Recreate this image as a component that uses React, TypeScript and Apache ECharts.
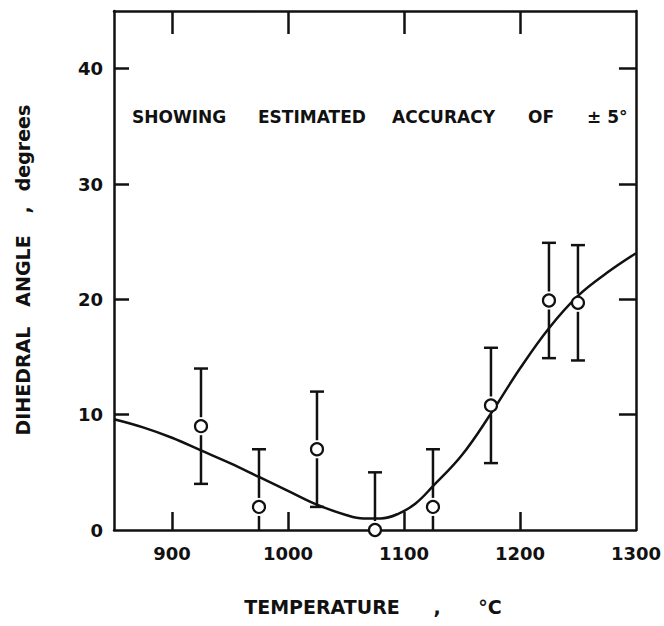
import React, { useEffect, useRef } from "react";
import * as echarts from "echarts";

// Measured dihedral angles (degrees) against temperature (°C)
const temperatures = [925, 975, 1025, 1075, 1125, 1175, 1225, 1250];
const angles = [9, 2, 7, 0, 2, 10.8, 19.9, 19.7];
const accuracy = 5; // estimated accuracy, ± degrees

// Smooth trend curve through the measurements
const curveTemperatures = [850, 875, 900, 925, 950, 975, 1000, 1025, 1050, 1065, 1080, 1095, 1110, 1125, 1150, 1175, 1200, 1225, 1250, 1275, 1300];
const curveAngles = [9.6, 8.9, 8.0, 6.9, 5.8, 4.6, 3.4, 2.2, 1.3, 1.0, 1.0, 1.4, 2.3, 3.8, 6.5, 10.1, 14.0, 17.5, 20.3, 22.3, 24.0];

// Axis ticks and labels
const xTickValues = [900, 1000, 1100, 1200];
const xLabelValues = [900, 1000, 1100, 1200, 1300];
const yTickValues = [10, 20, 30, 40];
const yLabelValues = [0, 10, 20, 30, 40];

const FONT = "DejaVu Sans";
const INK = "#111";

export default function App() {
  const ref = useRef<HTMLDivElement>(null);

  useEffect(() => {
    if (!ref.current) return;
    const chart = echarts.init(ref.current, null, { renderer: "svg" });

    const labelStyle = {
      color: INK,
      fontFamily: FONT,
      fontWeight: "bold" as const,
      fontSize: 18,
      formatter: (v: number) => String(v),
    };
    const frameLine = { show: true, onZero: false, lineStyle: { color: INK, width: 2.5 } };
    const tickStyle = { color: INK, width: 2.5 };

    const option: any = {
      animation: false,
      backgroundColor: "#fff",
      grid: { left: 114, right: 28, top: 11, bottom: 96 },
      xAxis: [
        {
          type: "value",
          min: 850,
          max: 1300,
          position: "bottom",
          axisLine: frameLine,
          axisTick: { show: true, inside: true, length: 18, customValues: xTickValues, lineStyle: tickStyle },
          axisLabel: { ...labelStyle, margin: 14, customValues: xLabelValues },
          splitLine: { show: false },
        },
        {
          type: "value",
          min: 850,
          max: 1300,
          position: "top",
          axisLine: frameLine,
          axisTick: { show: true, inside: true, length: 23, customValues: xTickValues, lineStyle: tickStyle },
          axisLabel: { show: false },
          splitLine: { show: false },
        },
      ],
      yAxis: [
        {
          type: "value",
          min: 0,
          max: 45,
          position: "left",
          axisLine: frameLine,
          axisTick: { show: true, inside: true, length: 15, customValues: yTickValues, lineStyle: tickStyle },
          axisLabel: { ...labelStyle, margin: 11, customValues: yLabelValues },
          splitLine: { show: false },
        },
        {
          type: "value",
          min: 0,
          max: 45,
          position: "right",
          axisLine: frameLine,
          axisTick: { show: true, inside: true, length: 17, customValues: yTickValues, lineStyle: tickStyle },
          axisLabel: { show: false },
          splitLine: { show: false },
        },
      ],
      series: [
        {
          type: "custom",
          name: "accuracy",
          xAxisIndex: 0,
          yAxisIndex: 0,
          data: temperatures.map((t, i) => [t, angles[i]]),
          renderItem: (params: any, api: any) => {
            const t = api.value(0);
            const a = api.value(1);
            const lo = a - accuracy;
            const hi = a + accuracy;
            const c = api.coord([t, a]);
            const pHi = api.coord([t, hi]);
            const pLo = api.coord([t, Math.max(0, lo)]);
            const gap = 9;
            const cap = 7;
            const style = { stroke: INK, lineWidth: 2.5 };
            const children: any[] = [
              { type: "line", shape: { x1: c[0], y1: c[1] - gap, x2: c[0], y2: pHi[1] }, style },
              { type: "line", shape: { x1: c[0] - cap, y1: pHi[1], x2: c[0] + cap, y2: pHi[1] }, style },
            ];
            if (pLo[1] > c[1] + gap) {
              children.push({ type: "line", shape: { x1: c[0], y1: c[1] + gap, x2: c[0], y2: pLo[1] }, style });
            }
            if (lo >= 0) {
              children.push({ type: "line", shape: { x1: c[0] - cap, y1: pLo[1], x2: c[0] + cap, y2: pLo[1] }, style });
            }
            return { type: "group", children };
          },
          z: 2,
        },
        {
          type: "line",
          name: "trend",
          data: curveTemperatures.map((t, i) => [t, curveAngles[i]]),
          smooth: 0.4,
          showSymbol: false,
          symbol: "none",
          lineStyle: { color: INK, width: 2.5 },
          z: 3,
        },
        {
          type: "scatter",
          name: "measured",
          data: temperatures.map((t, i) => [t, angles[i]]),
          symbol: "circle",
          symbolSize: 12,
          clip: false,
          itemStyle: { color: "#fff", borderColor: INK, borderWidth: 2.2, opacity: 1 },
          z: 4,
        },
      ],
      graphic: [
        // note inside the plot
        { type: "text", left: 132, top: 108, style: { text: "SHOWING", font: `bold 17px "${FONT}"`, fill: INK } },
        { type: "text", left: 258, top: 108, style: { text: "ESTIMATED", font: `bold 17px "${FONT}"`, fill: INK } },
        { type: "text", left: 392, top: 108, style: { text: "ACCURACY", font: `bold 17px "${FONT}"`, fill: INK } },
        { type: "text", left: 528, top: 108, style: { text: "OF", font: `bold 17px "${FONT}"`, fill: INK } },
        { type: "text", left: 587, top: 108, style: { text: "± 5°", font: `bold 17px "${FONT}"`, fill: INK } },
        // x axis title
        { type: "text", x: 322, y: 607, style: { text: "TEMPERATURE", font: `bold 19px "${FONT}"`, fill: INK, align: "center", verticalAlign: "middle" } },
        { type: "text", x: 437, y: 607, style: { text: ",", font: `bold 19px "${FONT}"`, fill: INK, align: "center", verticalAlign: "middle" } },
        { type: "text", x: 490, y: 607, style: { text: "°C", font: `bold 19px "${FONT}"`, fill: INK, align: "center", verticalAlign: "middle" } },
        // y axis title
        {
          type: "group",
          x: 23,
          y: 273,
          rotation: Math.PI / 2,
          children: [
            { type: "text", x: -108, y: 0, style: { text: "DIHEDRAL", font: `bold 19px "${FONT}"`, fill: INK, align: "center", verticalAlign: "middle" } },
            { type: "text", x: 2, y: 0, style: { text: "ANGLE", font: `bold 19px "${FONT}"`, fill: INK, align: "center", verticalAlign: "middle" } },
            { type: "text", x: 63, y: 0, style: { text: ",", font: `bold 19px "${FONT}"`, fill: INK, align: "center", verticalAlign: "middle" } },
            { type: "text", x: 125, y: 0, style: { text: "degrees", font: `bold 19px "${FONT}"`, fill: INK, align: "center", verticalAlign: "middle" } },
          ],
        },
      ],
    };

    chart.setOption(option);
    return () => chart.dispose();
  }, []);

  return (
    <div
      ref={ref}
      style={{ position: "absolute", left: 0, top: 0, width: 664, height: 626, background: "#fff" }}
    />
  );
}
